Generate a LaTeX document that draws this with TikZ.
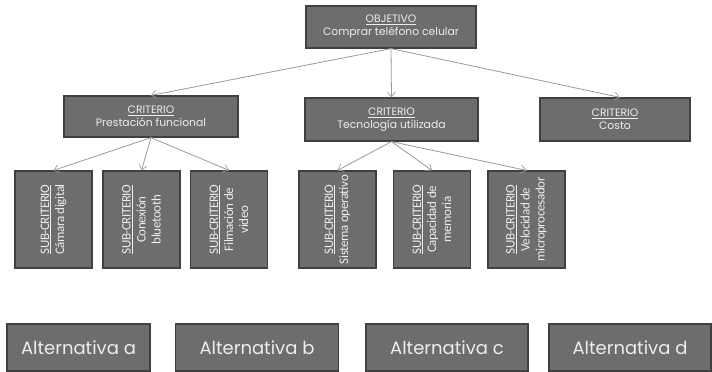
\documentclass[tikz,border=0pt]{standalone}
\usepackage{fontspec}
\setmainfont{Poppins}
\newfontfamily\subfont[LetterSpace=-3]{Carlito}
\usetikzlibrary{arrows.meta}
\definecolor{boxfill}{HTML}{6D6D6D}
\definecolor{boxedge}{HTML}{404040}
\definecolor{boxtext}{HTML}{EDEDED}
\definecolor{linkcol}{HTML}{9A9A9A}
\tikzset{
  box/.style={draw=boxedge, line width=1.2pt, fill=boxfill, text=boxtext,
    inner sep=0pt, align=center},
  topbox/.style={box, minimum width=170pt, minimum height=42pt,
    font=\fontsize{10.8}{13}\selectfont},
  subbox/.style={box, minimum width=77pt, minimum height=97pt},
  subtext/.style={rotate=90, text=boxtext, align=center, inner sep=0pt,
    font=\subfont\fontsize{13}{15}\selectfont},
  altbox/.style={box, minimum height=47pt, font=\fontsize{18}{20}\selectfont},
  link/.style={draw=linkcol, line width=0.8pt,
    -{Straight Barb[length=5pt,width=8pt,line width=0.7pt]}},
}
\begin{document}
\begin{tikzpicture}[x=1pt,y=-1pt]
\useasboundingbox (0,0) rectangle (712,372);

% goal and criteria
\node[topbox] (obj) at (391,27) {\underline{OBJETIVO}\\Comprar teléfono celular};
\node[topbox, minimum width=174pt, minimum height=41pt] (c1) at (151,116.5) {\underline{CRITERIO}\\Prestación funcional};
\node[topbox, minimum width=173pt, minimum height=43pt] (c2) at (391.5,119.5) {\underline{CRITERIO}\\Tecnología utilizada};
\node[topbox, minimum width=150pt, minimum height=43pt] (c3) at (615,119.5) {\underline{CRITERIO}\\Costo};

% sub-criteria
\node[subbox] (s1) at (53.5,219.5) {};
\node[subbox] (s2) at (141.5,219.5) {};
\node[subbox] (s3) at (229,219.5) {};
\node[subbox] (s4) at (337.5,219.5) {};
\node[subbox] (s5) at (432,219.5) {};
\node[subbox] (s6) at (526.5,219.5) {};
\node[subtext] (t1) at (s1) {\underline{SUB-CRITERIO}\\Cámara digital};
\node[subtext] (t2) at (s2) {\underline{SUB-CRITERIO}\\Conexión\\bluetooth};
\node[subtext] (t3) at (s3) {\underline{SUB-CRITERIO}\\Filmación de\\video};
\node[subtext] (t4) at (s4) {\underline{SUB-CRITERIO}\\Sistema operativo};
\node[subtext] (t5) at (s5) {\underline{SUB-CRITERIO}\\Capacidad de\\memoria};
\node[subtext] (t6) at (s6) {\underline{SUB-CRITERIO}\\Velocidad de\\microprocesador};

% alternatives
\node[altbox, minimum width=143pt] (a) at (78.5,347.5) {Alternativa a};
\node[altbox, minimum width=163pt] (b) at (257,347.5) {Alternativa b};
\node[altbox, minimum width=162pt] (c) at (447,347.5) {Alternativa c};
\node[altbox, minimum width=162pt] (d) at (630,347.5) {Alternativa d};

% links
\draw[link] (obj.south) -- (c1.north);
\draw[link] (obj.south) -- (c2.north);
\draw[link] (obj.south) -- ([xshift=5pt]c3.north);
\draw[link] (c1.south) -- (s1.north);
\draw[link] (c1.south) -- (s2.north);
\draw[link] (c1.south) -- (s3.north);
\draw[link] (c2.south) -- (s4.north);
\draw[link] (c2.south) -- (s5.north);
\draw[link] (c2.south) -- (s6.north);
\end{tikzpicture}
\end{document}
